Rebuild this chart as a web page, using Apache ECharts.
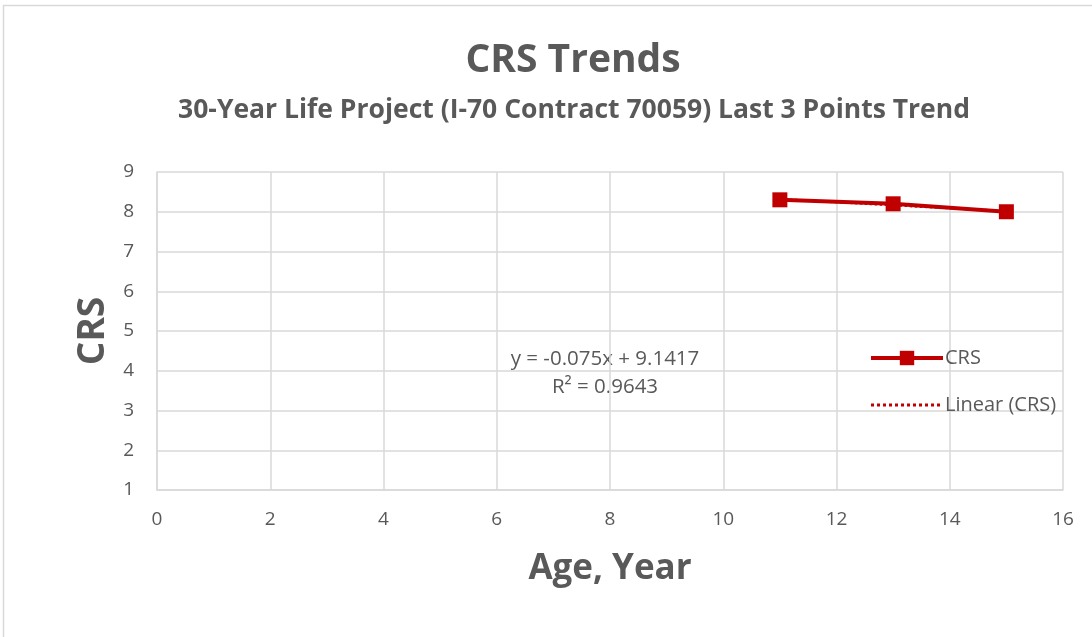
<!DOCTYPE html>
<html><head><meta charset="utf-8">
<script src="https://cdn.jsdelivr.net/npm/echarts@6/dist/echarts.min.js"></script>
<style>html,body{margin:0;padding:0;background:#fff}#c{width:1092px;height:637px}</style>
</head><body><div id="c"></div>
<script>
const ages = [11, 13, 15];
const crsValues = [8.3, 8.2, 8.0];
const xTicks = [0, 2, 4, 6, 8, 10, 12, 14, 16];
const yTicks = [1, 2, 3, 4, 5, 6, 7, 8, 9];

// least-squares trend from the data
const n = ages.length;
const mx = ages.reduce((a, b) => a + b, 0) / n;
const my = crsValues.reduce((a, b) => a + b, 0) / n;
let sxy = 0, sxx = 0, syy = 0;
for (let i = 0; i < n; i++) { sxy += (ages[i]-mx)*(crsValues[i]-my); sxx += (ages[i]-mx)**2; syy += (crsValues[i]-my)**2; }
const slope = sxy / sxx, intercept = my - slope * mx;
const r2 = (sxy*sxy)/(sxx*syy);
const trend = [[ages[0], intercept + slope*ages[0]], [ages[n-1], intercept + slope*ages[n-1]]];

const font = '"Open Sans", "Liberation Sans", sans-serif';
const gray = '#595959';
const chart = echarts.init(document.getElementById('c'));
chart.setOption({
  animation: false,
  textStyle: { fontFamily: font },
  title: [
    { text: 'CRS Trends', left: 568, top: 36, textAlign: 'center',
      textStyle: { fontSize: 39, fontWeight: 'bold', color: gray, fontFamily: font } },
    { text: '30-Year Life Project (I-70 Contract 70059) Last 3 Points Trend', left: 569, top: 92, textAlign: 'center',
      textStyle: { fontSize: 26.5, fontWeight: 'bold', color: gray, fontFamily: font } }
  ],
  grid: { left: 157, right: 29, top: 172, bottom: 147 },
  xAxis: {
    type: 'value', min: 0, max: 16, interval: 2,
    name: 'Age, Year', nameLocation: 'middle', nameGap: 62,
    nameTextStyle: { fontSize: 35, fontWeight: 'bold', color: gray, fontFamily: font },
    axisLine: { show: true, lineStyle: { color: '#d9d9d9', width: 1.5 } },
    axisTick: { show: false },
    axisLabel: { fontSize: 19, color: gray, margin: 20 },
    splitLine: { show: true, lineStyle: { color: '#d9d9d9', width: 1.5 } }
  },
  yAxis: {
    type: 'value', min: 1, max: 9, interval: 1,
    name: 'CRS', nameLocation: 'middle', nameGap: 44, nameRotate: 90,
    nameTextStyle: { fontSize: 37, fontWeight: 'bold', color: gray, fontFamily: font },
    axisLine: { show: true, lineStyle: { color: '#d9d9d9', width: 1.5 } },
    axisTick: { show: false },
    axisLabel: { fontSize: 19, color: gray, margin: 23 },
    splitLine: { show: true, lineStyle: { color: '#d9d9d9', width: 1.5 } }
  },
  legend: {
    orient: 'vertical', left: 864, top: 343, itemGap: 27,
    itemWidth: 72, itemHeight: 18,
    textStyle: { fontSize: 20, color: gray, padding: [0, 0, 0, -3] },
    data: [
      { name: 'CRS', lineStyle: { width: 4 } },
      { name: 'Linear (CRS)', itemStyle: { opacity: 0 }, lineStyle: { width: 3 } }
    ]
  },
  series: [
    { name: 'CRS', type: 'line', data: ages.map((a, i) => [a, crsValues[i]]),
      symbol: 'rect', symbolSize: 15, lineStyle: { color: '#c00000', width: 4 },
      itemStyle: { color: '#c00000' }, z: 2 },
    { name: 'Linear (CRS)', type: 'line', data: trend, symbol: 'none',
      lineStyle: { color: '#c00000', width: 2.5, type: 'dotted' }, itemStyle: { color: '#c00000' }, z: 3 }
  ],
  graphic: [
    { type: 'rect', shape: { x: 3.5, y: 5.5, width: 1200, height: 800 },
      style: { fill: 'none', stroke: '#d9d9d9', lineWidth: 1.5 }, silent: true },
    { type: 'text', x: 605, y: 345,
      style: { text: 'y = ' + slope.toFixed(3) + 'x + ' + intercept.toFixed(4) + '\nR² = ' + r2.toFixed(4),
        align: 'center', fontSize: 20.5, lineHeight: 28, fill: gray, fontFamily: font } }
  ]
});
</script></body></html>
